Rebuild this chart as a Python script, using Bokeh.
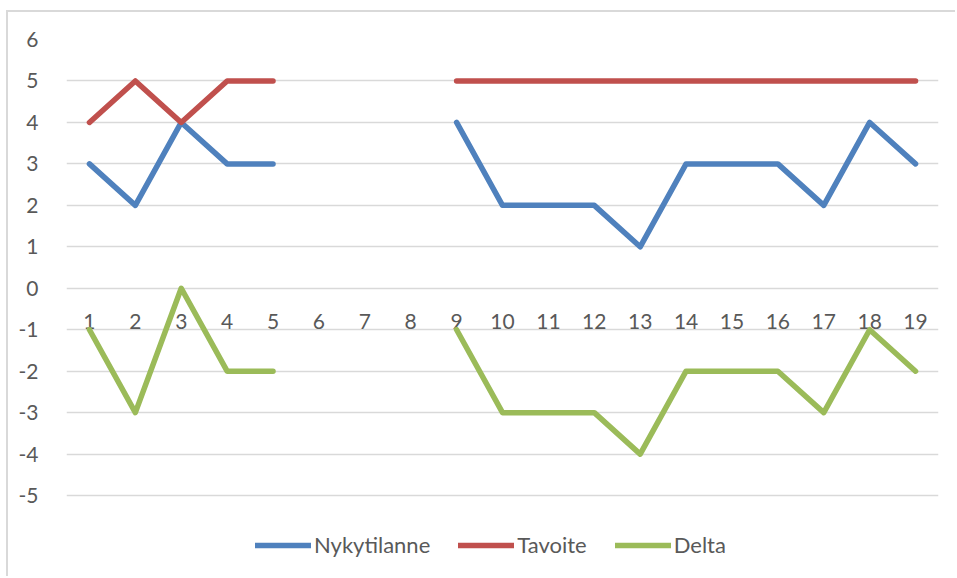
import numpy as np
from bokeh.plotting import figure
from bokeh.models import Range1d, Legend, LegendItem, FixedTicker, ColumnDataSource
from bokeh.core.properties import value
from bokeh.embed import file_html
from bokeh.resources import INLINE

nan = float("nan")
categories = list(range(1, 20))
tick_labels = [str(c) for c in categories]
nykytilanne = [3, 2, 4, 3, 3, nan, nan, nan, 4, 2, 2, 2, 1, 3, 3, 3, 2, 4, 3]
tavoite = [4, 5, 4, 5, 5, nan, nan, nan, 5, 5, 5, 5, 5, 5, 5, 5, 5, 5, 5]
delta = [-1, -3, 0, -2, -2, nan, nan, nan, -1, -3, -3, -3, -4, -2, -2, -2, -3, -1, -2]
y_ticks = list(range(-5, 7))

FONT = "Lato"
TXT = "#595959"

p = figure(width=949, height=566, output_backend="svg", toolbar_location=None,
           x_range=Range1d(0.5, 19.5), y_range=Range1d(-7.0, 6),
           min_border_left=58, min_border_right=19, min_border_top=27, min_border_bottom=0)
p.margin = (10, 0, 0, 6)
p.styles = {"border-left": "2px solid #d9d9d9", "border-top": "2px solid #d9d9d9"}
p.outline_line_color = None
p.background_fill_color = "white"
p.border_fill_color = "white"

p.xaxis.visible = False
p.xgrid.visible = False
p.ygrid.grid_line_color = "#d9d9d9"
p.ygrid.grid_line_width = 1.5
p.ygrid.ticker = FixedTicker(ticks=y_ticks)
p.yaxis.ticker = FixedTicker(ticks=y_ticks)
p.yaxis.major_label_overrides = {t: str(t) for t in y_ticks}
p.yaxis.axis_line_color = None
p.yaxis.major_tick_line_color = None
p.yaxis.minor_tick_line_color = None
p.yaxis.major_label_standoff = 22
p.yaxis.major_label_text_font = FONT
p.yaxis.major_label_text_font_size = "21px"
p.yaxis.major_label_text_color = TXT

src = ColumnDataSource(dict(x=categories, y=[0] * len(categories), t=tick_labels))
p.text(x="x", y="y", text="t", source=src, y_offset=33, text_align="center",
       text_baseline="middle", text_font=value(FONT), text_font_size="21px", text_color=TXT)

r1 = p.line(categories, nykytilanne, line_color="#4f81bd", line_width=5.5,
            line_cap="round", line_join="round")
r2 = p.line(categories, tavoite, line_color="#c0504d", line_width=5.5,
            line_cap="round", line_join="round")
r3 = p.line(categories, delta, line_color="#9bbb59", line_width=5.5,
            line_cap="round", line_join="round")

legend = Legend(items=[LegendItem(label="Nykytilanne", renderers=[r1]),
                       LegendItem(label="Tavoite", renderers=[r2]),
                       LegendItem(label="Delta", renderers=[r3])],
                orientation="horizontal", location=(189, 20))
legend.glyph_width = 56
legend.glyph_height = 20
legend.label_standoff = 3
legend.spacing = 28
legend.padding = 0
legend.margin = 0
legend.border_line_color = None
legend.background_fill_alpha = 0
legend.label_text_font = FONT
legend.label_text_font_size = "22px"
legend.label_text_color = TXT
p.add_layout(legend, "center")

open("out.html", "w").write(file_html(p, INLINE))
